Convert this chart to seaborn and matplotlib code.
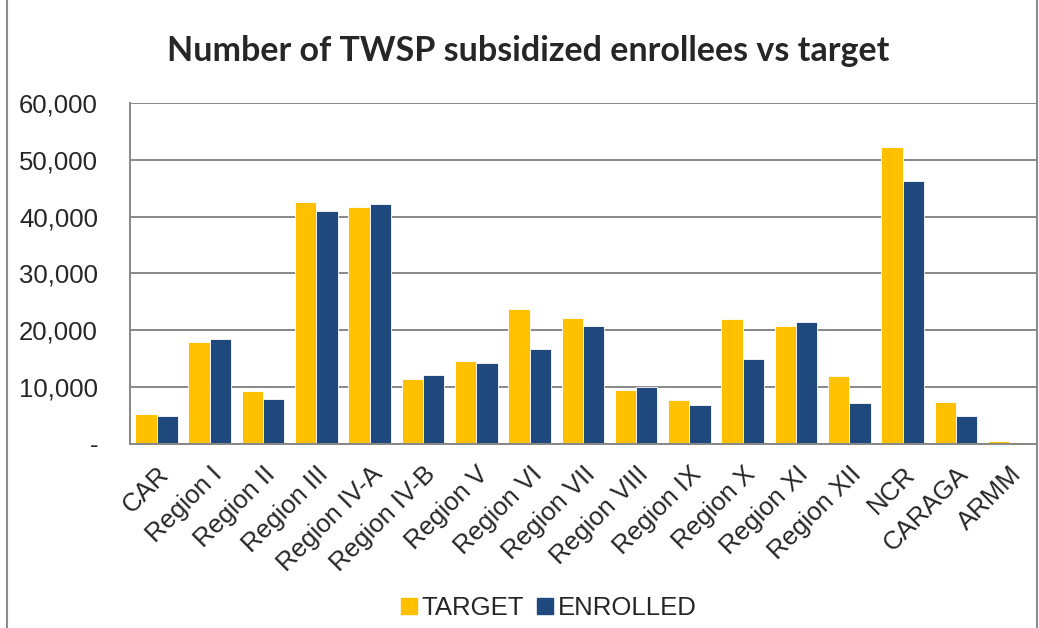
import matplotlib
matplotlib.use("Agg")
import matplotlib.pyplot as plt
import seaborn as sns
import pandas as pd
from matplotlib.patches import Rectangle
from matplotlib.ticker import FuncFormatter

regions = ["CAR", "Region I", "Region II", "Region III", "Region IV-A", "Region IV-B",
           "Region V", "Region VI", "Region VII", "Region VIII", "Region IX", "Region X",
           "Region XI", "Region XII", "NCR", "CARAGA", "ARMM"]
target = [5340, 17960, 9330, 42550, 41730, 11390, 14550, 23710, 22240, 9570,
          7810, 22010, 20720, 12030, 52290, 7390, 470]
enrolled = [4930, 18490, 7920, 40960, 42200, 12090, 14200, 16730, 20830, 10040,
            6870, 15020, 21540, 7220, 46190, 4930, 0]
series = ["TARGET", "ENROLLED"]
colors = ["#FFC000", "#1F497D"]

df = pd.DataFrame({
    "Region": regions * 2,
    "Series": [series[0]] * len(regions) + [series[1]] * len(regions),
    "Value": target + enrolled,
})

sns.set_style("white")
plt.rcParams["font.family"] = ["Liberation Sans", "DejaVu Sans"]

fig = plt.figure(figsize=(10.39, 6.28), dpi=100)
ax = fig.add_axes([0.125, 0.293, 0.872, 0.543])

sns.barplot(data=df, x="Region", y="Value", hue="Series", palette=colors,
            saturation=1, width=0.8, gap=0, edgecolor="white", linewidth=0.6, ax=ax)

ax.set_xlim(-0.5, len(regions) - 0.5)
ax.set_ylim(0, 60000)
ax.set_yticks(range(0, 60001, 10000))
ax.yaxis.set_major_formatter(FuncFormatter(lambda v, p: "-" if v == 0 else f"{int(v):,}"))
ax.grid(axis="y", color="#878787", linewidth=1.4)
ax.set_axisbelow(True)
for s in ["top", "right"]:
    ax.spines[s].set_visible(False)
for s in ["left", "bottom"]:
    ax.spines[s].set_color("#878787")
    ax.spines[s].set_linewidth(1.4)
ax.tick_params(axis="y", labelsize=18.5, pad=23, length=0)
ax.tick_params(axis="x", labelsize=18.5, pad=13, length=0)
plt.setp(ax.get_xticklabels(), rotation=45, ha="right", rotation_mode="anchor")
ax.set_xlabel("")
ax.set_ylabel("")

ax.legend_.remove()
handles = [plt.Line2D([], [], marker="s", linestyle="", color=c, markersize=11) for c in colors]
fig.legend(handles, series, loc="center", bbox_to_anchor=(0.527, 0.032), ncol=2,
           frameon=False, fontsize=18.5, handletextpad=0.1, columnspacing=0.4,
           handlelength=0.8)

fig.text(0.508, 0.918, "Number of TWSP subsidized enrollees vs target",
         ha="center", va="center", fontsize=24.5, fontweight="bold",
         family=["Lato", "DejaVu Sans"])

fig.patches.append(Rectangle((0.007, -0.01), 0.991, 1.02, transform=fig.transFigure,
                             fill=False, edgecolor="#8c8c8c", linewidth=1.5))

fig.savefig("out.png", dpi=100)
